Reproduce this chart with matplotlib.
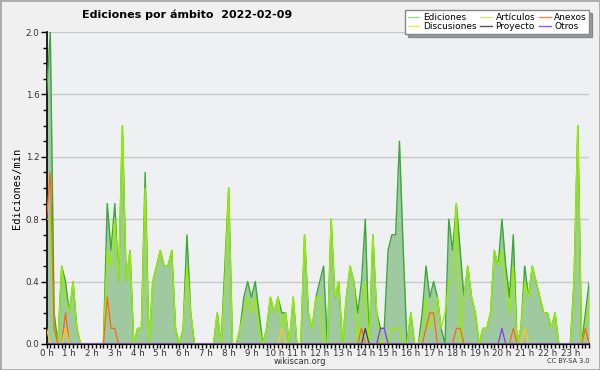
import numpy as np
import matplotlib
matplotlib.use("Agg")
from matplotlib import pyplot as plt
from matplotlib.ticker import MultipleLocator

plt.rcParams['font.family'] = 'DejaVu Sans'

# 10-minute buckets, edits per minute
ediciones = [1.6, 2.0, 0.2, 0, 0.5, 0.4, 0.2, 0.4, 0.1, 0,
             0, 0, 0, 0, 0, 0, 0.9, 0.6, 0.9, 0.4,
             1.4, 0.4, 0.6, 0, 0.1, 0.1, 1.1, 0, 0.4, 0.5,
             0.6, 0.5, 0.5, 0.6, 0.1, 0, 0.1, 0.7, 0.2, 0,
             0, 0, 0, 0, 0, 0.2, 0, 0.5, 1.0, 0,
             0, 0.1, 0.3, 0.4, 0.3, 0.4, 0.2, 0, 0.1, 0.3,
             0.2, 0.3, 0.2, 0.2, 0, 0.3, 0, 0, 0.7, 0.2,
             0.1, 0.3, 0.4, 0.5, 0, 0.8, 0.3, 0.4, 0, 0.3,
             0.5, 0.4, 0.2, 0.4, 0.8, 0, 0.7, 0.2, 0.1, 0.1,
             0.6, 0.7, 0.7, 1.3, 0.6, 0, 0.2, 0, 0, 0.2,
             0.5, 0.3, 0.4, 0.3, 0.1, 0, 0.8, 0.6, 0.9, 0.6,
             0.3, 0.5, 0.3, 0.2, 0, 0.1, 0.1, 0.2, 0.6, 0.5,
             0.8, 0.5, 0.3, 0.7, 0, 0.1, 0.5, 0.3, 0.5, 0.4,
             0.3, 0.2, 0.2, 0.1, 0.2, 0, 0, 0, 0, 0.4,
             1.4, 0, 0.2, 0.4]
articulos = [0.8, 0.8, 0.1, 0, 0.5, 0.3, 0.2, 0.4, 0.1, 0,
             0, 0, 0, 0, 0, 0, 0.6, 0.5, 0.8, 0.4,
             1.4, 0.4, 0.6, 0, 0.1, 0.1, 1.0, 0, 0.4, 0.5,
             0.6, 0.5, 0.5, 0.6, 0.1, 0, 0.1, 0.5, 0.2, 0,
             0, 0, 0, 0, 0, 0.2, 0, 0.4, 1.0, 0,
             0, 0.1, 0.2, 0.3, 0.2, 0.3, 0.1, 0, 0.1, 0.3,
             0.2, 0.3, 0.1, 0.2, 0, 0.3, 0, 0, 0.7, 0.2,
             0.1, 0.3, 0.3, 0, 0, 0.8, 0.3, 0.4, 0, 0.3,
             0.5, 0.4, 0, 0.2, 0.4, 0, 0.7, 0.2, 0, 0,
             0, 0.1, 0.1, 0.1, 0, 0, 0.2, 0, 0, 0.1,
             0.3, 0.1, 0.2, 0.3, 0.1, 0.2, 0.4, 0.4, 0.9, 0,
             0.3, 0.5, 0.3, 0.2, 0, 0.1, 0.1, 0.2, 0.6, 0.5,
             0.6, 0.4, 0.2, 0.5, 0, 0.1, 0.4, 0.3, 0.5, 0.4,
             0.3, 0.2, 0.2, 0.1, 0.2, 0, 0, 0, 0, 0.4,
             1.4, 0, 0.1, 0.3]
# sparse series: {bucket index: value}
anexos = {0: 0.8, 1: 1.1, 2: 0.1, 5: 0.2, 16: 0.3, 17: 0.1, 18: 0.1, 83: 0.1,
          100: 0.1, 101: 0.2, 102: 0.2, 108: 0.1, 109: 0.1, 123: 0.1, 142: 0.1}
discusiones = {0: 0.1, 5: 0.1, 62: 0.1, 126: 0.1}
proyecto = {84: 0.1}
otros = {88: 0.1, 89: 0.1, 120: 0.1}

hour_labels = [f"{h} h" for h in range(24)]

n = len(ediciones)
x = np.arange(n) / 6.0

def dense(d):
    arr = np.zeros(n)
    for k, v in d.items():
        arr[k] = v
    return arr

fig = plt.figure(figsize=(6, 3.7), dpi=100, facecolor='#f0f0f0')
ax = fig.add_axes([0.0775, 0.0703, 0.9045, 0.8432])
ax.set_facecolor('#eef0f2')

ax.fill_between(x, 0, ediciones, color='#9fca9f', lw=0, zorder=2)
ax.plot(x, ediciones, color='#3aa83a', lw=1.0, zorder=3)
ax.plot(x, articulos, color='#99ee00', lw=1.0, zorder=4)
ax.plot(x, dense(anexos), color='#ff6611', lw=0.9, zorder=5)
ax.plot(x, dense(discusiones), color='#ffcc11', lw=0.9, zorder=5)
ax.plot(x, dense(proyecto), color='#444444', lw=0.9, zorder=5)
ax.plot(x, dense(otros), color='#8833ff', lw=0.9, zorder=5)

ax.set_xlim(0, x[-1])
ax.set_ylim(0, 2.0)
ax.set_xticks(range(24))
ax.set_xticklabels(hour_labels)
ax.xaxis.set_minor_locator(MultipleLocator(1 / 6))
ax.set_yticks(np.arange(0, 2.01, 0.4))
ax.set_yticklabels([f"{v:.1f}" for v in np.arange(0, 2.01, 0.4)])
ax.yaxis.set_minor_locator(MultipleLocator(0.1))
ax.tick_params(axis='x', which='major', direction='out', length=3, width=1,
               labelsize=6.3, colors='black', labelcolor='#333333', pad=0.5)
ax.tick_params(axis='y', which='major', direction='out', length=4, width=1,
               labelsize=6.3, colors='black', labelcolor='#333333', pad=1)
ax.tick_params(axis='both', which='minor', direction='out', length=3, width=1, colors='black')
ax.grid(axis='y', which='major', color='#c8c8c8', lw=1)
ax.set_axisbelow(True)
for s in ['top', 'right']:
    ax.spines[s].set_visible(False)
ax.spines['left'].set_linewidth(1.2)
ax.spines['bottom'].set_linewidth(1.5)

ax.set_ylabel('Ediciones/min', fontsize=7.5, family='DejaVu Sans Mono', labelpad=3)
fig.text(0.3125, 0.96, 'Ediciones por ámbito  2022-02-09', fontsize=8,
         fontweight='bold', ha='center', va='center')

handles = [
    plt.Line2D([], [], color='#99dd99', lw=1),
    plt.Line2D([], [], color='#ffdd55', lw=1),
    plt.Line2D([], [], color='#ccee66', lw=1),
    plt.Line2D([], [], color='#555555', lw=1),
    plt.Line2D([], [], color='#ff8844', lw=1),
    plt.Line2D([], [], color='#9955ff', lw=1),
]
labels = ['Ediciones', 'Discusiones', 'Artículos', 'Proyecto', 'Anexos', 'Otros']
leg = fig.legend(handles, labels, ncol=3, loc='upper right', bbox_to_anchor=(0.99, 0.985),
                 fontsize=6.5, frameon=True, fancybox=False, shadow=True,
                 handlelength=1.3, handletextpad=0.4, columnspacing=0.4,
                 labelspacing=0.05, borderpad=0.3, edgecolor='#888888')
leg.get_frame().set_facecolor('white')

fig.text(0.5, 0.024, 'wikiscan.org', fontsize=6, ha='center', va='center', color='#333333')
fig.text(0.982, 0.024, 'CC BY-SA 3.0', fontsize=4.8, ha='right', va='center', color='#333333')

border = plt.Rectangle((0, 0), 1, 1, transform=fig.transFigure, fill=False,
                       edgecolor='#aaaaaa', lw=2)
fig.patches.append(border)

fig.savefig('out.png', dpi=100, facecolor=fig.get_facecolor())
